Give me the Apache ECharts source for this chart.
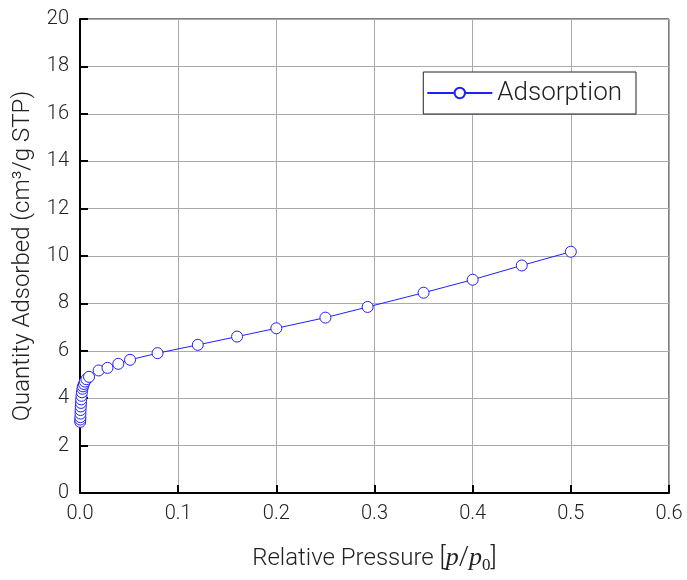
<!DOCTYPE html>
<html><head><meta charset="utf-8">
<script src="https://cdn.jsdelivr.net/npm/echarts@6/dist/echarts.min.js"></script>
<style>html,body{margin:0;padding:0;background:#fff}#c{width:687px;height:580px}</style>
</head><body><div id="c"></div>
<script>
const seriesName = 'Adsorption';
const pressure = [0.0002,0.0003,0.0004,0.0005,0.0006,0.0008,0.001,0.0012,0.0015,0.002,0.0025,0.003,0.004,0.005,0.0065,0.0092,
  0.019,0.028,0.039,0.051,0.079,0.12,0.16,0.2,0.25,0.293,0.35,0.40,0.45,0.50];
const quantity = [3.0,3.1,3.2,3.35,3.5,3.65,3.8,3.95,4.1,4.25,4.4,4.5,4.6,4.7,4.8,4.9,
  5.17,5.28,5.45,5.62,5.9,6.25,6.6,6.95,7.4,7.85,8.45,9.0,9.6,10.18];
const xTicks = [0,0.1,0.2,0.3,0.4,0.5,0.6];
const yTicks = [0,2,4,6,8,10,12,14,16,18,20];

const font = 'Roboto';
const chart = echarts.init(document.getElementById('c'));
const pts = pressure.map((p,i)=>[p, quantity[i]]);
chart.setOption({
  animation:false,
  backgroundColor:'#fff',
  grid:{left:80,right:18,top:19,bottom:87,show:true,borderColor:'#000',borderWidth:1},
  legend:{
    right:51, top:72, orient:'horizontal',
    backgroundColor:'#fff', borderColor:'#222', borderWidth:1, borderRadius:0,
    padding:[8,14,8,3],
    itemWidth:65, itemHeight:13, itemGap:8,
    textStyle:{fontFamily:font,fontSize:26,color:'#222',fontWeight:300},
    data:[seriesName]
  },
  xAxis:{
    type:'value', min:xTicks[0], max:xTicks[xTicks.length-1], interval:0.1,
    axisLine:{show:true,lineStyle:{color:'#000',width:2}},
    axisTick:{show:true,inside:true,length:8,lineStyle:{color:'#000',width:2}},
    splitLine:{show:true,lineStyle:{color:'#aaa',width:1}},
    axisLabel:{margin:11,fontFamily:font,fontSize:20,color:'#222',fontWeight:300,
      formatter:v=>v.toFixed(1)},
    name:'{a|Relative Pressure }{b|[}{i|p}{b|/}{i|p}{s|0}{b|]}',
    nameLocation:'middle', nameGap:50,
    nameTextStyle:{rich:{
      a:{fontFamily:font,fontSize:24,color:'#222',fontWeight:300},
      b:{fontFamily:font,fontSize:26,color:'#222',fontWeight:300},
      i:{fontFamily:'Liberation Serif',fontStyle:'italic',fontSize:26,color:'#222'},
      s:{fontFamily:'Liberation Serif',fontSize:17,color:'#222',padding:[14,0,0,0]}
    }}
  },
  yAxis:{
    type:'value', min:yTicks[0], max:yTicks[yTicks.length-1], interval:2,
    axisLine:{show:true,lineStyle:{color:'#000',width:2}},
    axisTick:{show:true,inside:true,length:8,lineStyle:{color:'#000',width:2}},
    splitLine:{show:true,lineStyle:{color:'#aaa',width:1}},
    axisLabel:{margin:11,fontFamily:font,fontSize:20,color:'#222',fontWeight:300},
    name:'Quantity Adsorbed (cm³/g STP)',
    nameLocation:'middle', nameGap:45,
    nameTextStyle:{fontFamily:font,fontSize:24,color:'#222',fontWeight:300}
  },
  series:[{
    name:seriesName, type:'line', data:pts,
    symbol:'circle', symbolSize:11, showSymbol:true,
    lineStyle:{color:'#2020ff',width:1},
    itemStyle:{color:'#fff',borderColor:'#2020ff',borderWidth:1},
    emphasis:{disabled:true}
  }]
});
</script></body></html>
